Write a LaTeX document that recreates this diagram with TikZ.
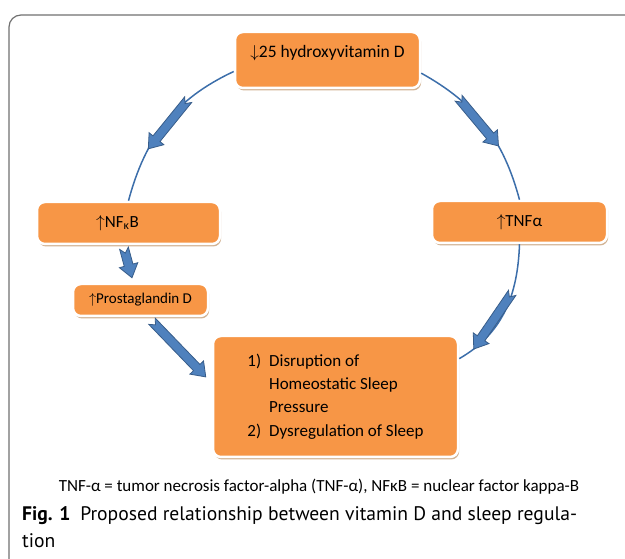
\documentclass[tikz,border=0pt]{standalone}
\usepackage{fontspec}
\setmainfont{Carlito}
\newfontfamily\captionfont{PT Sans}
\usetikzlibrary{calc,shadows}

\definecolor{kasten}{HTML}{F79646}
\definecolor{schatten}{HTML}{D2B394}
\definecolor{pfeilblau}{HTML}{4F81BD}
\definecolor{pfeilrand}{HTML}{385D8A}
\definecolor{linienblau}{HTML}{3C6EAA}
\definecolor{rahmen}{HTML}{707070}

%Blockpfeil von #1 nach #2
\newcommand{\blockpfeil}[2]{%
	\coordinate (bpK) at ($(#2)!13pt!(#1)$);
	\coordinate (bpN) at ($(#1)!5pt!(#2)$);
	\filldraw[blockpfeil] ($(#1)!4.5pt!90:(#2)$) -- ($(bpK)!4.5pt!90:(#2)$) -- ($(bpK)!9.5pt!90:(#2)$) -- (#2) -- ($(bpK)!9.5pt!-90:(#2)$) -- ($(bpK)!4.5pt!-90:(#2)$) -- ($(#1)!4.5pt!-90:(#2)$) -- (bpN) -- cycle;
}

\begin{document}
\begin{tikzpicture}
		[
		x=1pt, y=1pt, font=\fontsize{17}{20}\selectfont,
		%Voreinstellungen
		kasten/.style={fill=kasten, draw=white, line width=2.5pt, rounded corners=8pt, inner sep=0pt,
			drop shadow={shadow xshift=1.2pt, shadow yshift=-2.5pt, fill=schatten, opacity=1}},
		bogen/.style={draw=linienblau, line width=1.5pt},
		blockpfeil/.style={fill=pfeilblau, draw=pfeilrand, line width=0.8pt, line join=miter}
		]
		
		\useasboundingbox (0,0) rectangle (625,558);
		
		%Rahmen
		\draw[rahmen, line width=1.2pt, rounded corners=12pt] (9,-2) -- (9,543) -- (630,543);
		
		%Kaesten
		\node[kasten, minimum width=185, minimum height=56, text height=25.5pt, text depth=30.5pt, font=\fontsize{17.5}{20}\selectfont] (vitd) at (327.5,498) {$\downarrow$25 hydroxyvitamin D};
		\node[kasten, minimum width=183, minimum height=42] (nfkb) at (128.5,335) {$\uparrow$NF\textsubscript{κ}B\hspace*{22pt}};
		\node[kasten, minimum width=175, minimum height=42] (tnf) at (519.5,336) {$\uparrow$TNFα};
		\node[kasten, minimum width=135, minimum height=32, font=\fontsize{15}{17}\selectfont] (pgd) at (140.5,258) {$\uparrow$Prostaglandin D};
		\node[kasten, minimum width=245, minimum height=121] (schlaf) at (335.5,161.5)
		{\renewcommand{\arraystretch}{1.17}\begin{tabular}{@{}l@{\hspace{8pt}}l@{}}
				1) & Disruption of\\
				& Homeostatic Sleep\\
				& Pressure\\
				2) & Dysregulation of Sleep
		\end{tabular}};
		
		%Bogen links
		\draw[bogen] (vitd.187) to[out=205, in=75] coordinate[pos=0.30] (l1) coordinate[pos=0.69] (l2) (nfkb.north);
		\blockpfeil{l1}{l2}
		
		%Bogen rechts
		\draw[bogen] (vitd.352) to[out=-29, in=105] coordinate[pos=0.26] (r1) coordinate[pos=0.66] (r2) (tnf.north);
		\blockpfeil{r1}{r2}
		
		%Bogen unten rechts
		\draw[bogen] (tnf.south) to[out=-92, in=30] coordinate[pos=0.35] (u1) coordinate[pos=0.88] (u2) (schlaf.17);
		\blockpfeil{u1}{u2}
		
		%NFkB -> Prostaglandin
		\coordinate (n1) at ($(nfkb.south)+(-4.5,-3)$);
		\coordinate (n2) at ($(pgd.north)+(-8.5,5)$);
		\blockpfeil{n1}{n2}
		
		%Prostaglandin -> Schlaf
		\coordinate (p1) at ($(pgd.south)+(11.5,-4)$);
		\coordinate (p2) at ($(schlaf.171)+(-6,0)$);
		\blockpfeil{p1}{p2}
		
		%Legende
		\node[font=\fontsize{17}{20}\selectfont] (legende) at (319,71) {TNF-α = tumor necrosis factor-alpha (TNF-α), NFκB = nuclear factor kappa-B};
		
		%Bildunterschrift
		\node[anchor=north west, align=left, inner sep=0pt, font=\captionfont\fontsize{19.6}{27}\selectfont] (unterschrift) at (22,52)
		{\textbf{Fig. 1}\enspace Proposed relationship between vitamin D and sleep regula-\\tion};
	\end{tikzpicture}
\end{document}
